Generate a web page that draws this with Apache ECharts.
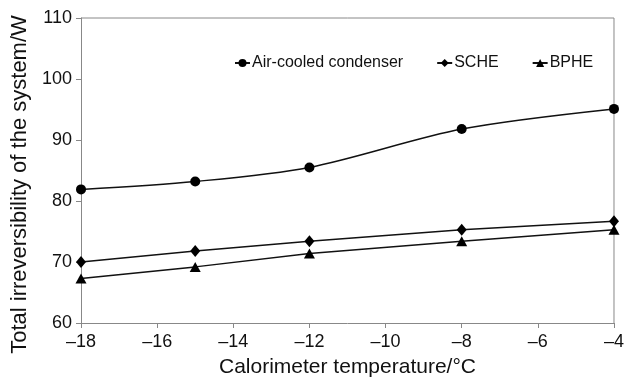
<!DOCTYPE html>
<html>
<head>
<meta charset="utf-8">
<script src="https://cdn.jsdelivr.net/npm/echarts@6/dist/echarts.min.js"></script>
<style>
  html, body { margin: 0; padding: 0; background: #fff; }
  #chart { width: 627px; height: 383px; }
</style>
</head>
<body>
<div id="chart"></div>
<script>
// calorimeter temperature, °C
const temps = [-18, -15, -12, -8, -4];
// total irreversibility, W
const airCooled = [81.9, 83.2, 85.5, 91.8, 95.1];
const sche = [70.0, 71.8, 73.4, 75.3, 76.7];
const bphe = [67.3, 69.2, 71.4, 73.4, 75.3];

const pairs = (ys) => temps.map((t, i) => [t, ys[i]]);
const font = 'Liberation Sans, Arial, sans-serif';

const myChart = echarts.init(document.getElementById('chart'));
myChart.setOption({
  animation: false,
  grid: { left: 81, right: 6, top: 18, bottom: 57 },
  legend: {
    top: 50,
    left: 229,
    itemGap: 33,
    itemWidth: 15,
    itemHeight: 10,
    textStyle: { fontFamily: font, fontSize: 16, color: '#111', padding: [0, 0, 0, -3] },
    data: ['Air-cooled condenser', 'SCHE', 'BPHE'],
  },
  xAxis: {
    type: 'value',
    min: -18,
    max: -4,
    interval: 2,
    name: 'Calorimeter temperature/°C',
    nameLocation: 'middle',
    nameGap: 34,
    nameTextStyle: { fontFamily: font, fontSize: 21, color: '#111' },
    axisLine: { show: true, lineStyle: { color: '#888' } },
    axisTick: { show: true, length: 5, lineStyle: { color: '#888' } },
    axisLabel: {
      fontFamily: font,
      fontSize: 18,
      color: '#111',
      margin: 10,
      formatter: (v) => (v < 0 ? '\u2013' + Math.abs(v) : v),
    },
    splitLine: { show: false },
  },
  yAxis: {
    type: 'value',
    min: 60,
    max: 110,
    interval: 10,
    name: 'Total irreversibility of the system/W',
    nameLocation: 'middle',
    nameGap: 50,
    nameTextStyle: { fontFamily: font, fontSize: 22, color: '#111', padding: [0, 28, 0, 0] },
    axisLine: { show: true, lineStyle: { color: '#888' } },
    axisTick: { show: true, length: 5, lineStyle: { color: '#888' } },
    axisLabel: { fontFamily: font, fontSize: 18, color: '#111', margin: 9 },
    splitLine: { show: false },
  },
  series: [
    {
      name: 'Air-cooled condenser',
      type: 'line',
      smooth: 0.3,
      data: pairs(airCooled),
      symbol: 'circle',
      symbolSize: 10,
      itemStyle: { color: '#000' },
      lineStyle: { color: '#111', width: 1.5 },
    },
    {
      name: 'SCHE',
      type: 'line',
      data: pairs(sche),
      symbol: 'diamond',
      symbolSize: [10, 12],
      itemStyle: { color: '#000' },
      lineStyle: { color: '#111', width: 1.5 },
    },
    {
      name: 'BPHE',
      type: 'line',
      data: pairs(bphe),
      symbol: 'triangle',
      symbolSize: [11, 10],
      itemStyle: { color: '#000' },
      lineStyle: { color: '#111', width: 1.5 },
    },
  ],
});

// top / right frame lines at the grid edges
const g = myChart.getModel().getComponent('grid').coordinateSystem.getRect();
myChart.setOption({
  graphic: [
    {
      type: 'polyline',
      silent: true,
      shape: { points: [[g.x, g.y], [g.x + g.width, g.y], [g.x + g.width, g.y + g.height]] },
      style: { stroke: '#888', lineWidth: 1, fill: null },
    },
  ],
});
</script>
</body>
</html>
